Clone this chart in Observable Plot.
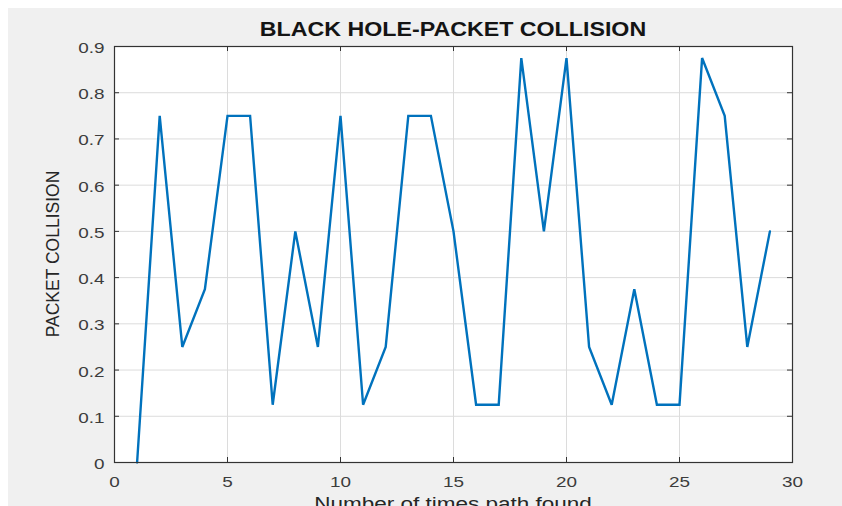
<!DOCTYPE html>
<html>
<head>
<meta charset="utf-8">
<script src="https://cdn.jsdelivr.net/npm/d3@7"></script>
<script src="https://cdn.jsdelivr.net/npm/@observablehq/plot@0.6"></script>
<style>
  html, body { margin: 0; padding: 0; width: 842px; height: 506px; overflow: hidden; background: #ffffff; }
  #bg { position: absolute; left: 8px; top: 8px; right: 0; bottom: 0; background: #f0f0f0; }
  #chart { position: absolute; left: 0; top: 0; }
  .lbl { position: absolute; font-family: "Liberation Sans", Arial, sans-serif; white-space: nowrap; line-height: 1; }
  #title { left: 453px; top: 20px; font-size: 19.5px; font-weight: bold; color: #141414; transform: translateX(-50%) scaleX(1.19); }
  #ylab { left: 53px; top: 254px; font-size: 17.5px; color: #262626; transform: translate(-50%, -50%) scaleX(1.05) rotate(-90deg); }
  #xlab { left: 453px; top: 494.5px; font-size: 18px; color: #262626; transform: translateX(-50%) scaleX(1.25); }
</style>
</head>
<body>
<div id="bg"></div>
<div id="chart"></div>
<div class="lbl" id="title">BLACK HOLE-PACKET COLLISION</div>
<div class="lbl" id="ylab">PACKET COLLISION</div>
<div class="lbl" id="xlab">Number of times path found</div>
<script>
const pathFound = [1,2,3,4,5,6,7,8,9,10,11,12,13,14,15,16,17,18,19,20,21,22,23,24,25,26,27,28,29];
const collision = [0,0.75,0.25,0.375,0.75,0.75,0.125,0.5,0.25,0.75,0.125,0.25,0.75,0.75,0.5,0.125,0.125,0.875,0.5,0.875,0.25,0.125,0.375,0.125,0.125,0.875,0.75,0.25,0.5];
const xTicks = [0,5,10,15,20,25,30];
const yTicks = [0,0.1,0.2,0.3,0.4,0.5,0.6,0.7,0.8,0.9];
const yTickLabels = ["0","0.1","0.2","0.3","0.4","0.5","0.6","0.7","0.8","0.9"];

const data = pathFound.map((x, i) => ({x, y: collision[i]}));

const W = 842, H = 506;
const mL = 114, mR = 50, mT = 46, mB = 44;
const pw = W - mL - mR, ph = H - mT - mB;
const tick = 5;
const axisColor = "#333333";

const plot = Plot.plot({
  width: W,
  height: H,
  marginLeft: mL,
  marginRight: mR,
  marginTop: mT,
  marginBottom: mB,
  style: {fontFamily: "'Liberation Sans', Arial, sans-serif", fontSize: "15.5px", color: "#3c3c3c", background: "transparent", overflow: "visible"},
  x: {domain: [0, 30]},
  y: {domain: [0, 0.9]},
  marks: [
    Plot.frame({fill: "white"}),
    Plot.gridX(xTicks, {stroke: "#dcdcdc", strokeOpacity: 1, strokeWidth: 1}),
    Plot.gridY(yTicks, {stroke: "#dcdcdc", strokeOpacity: 1, strokeWidth: 1}),
    Plot.tickX(xTicks, {x: d => d, insetTop: ph - tick, stroke: axisColor}),
    Plot.tickX(xTicks, {x: d => d, insetBottom: ph - tick, stroke: axisColor}),
    Plot.tickY(yTicks, {y: d => d, insetRight: pw - tick, stroke: axisColor}),
    Plot.tickY(yTicks, {y: d => d, insetLeft: pw - tick, stroke: axisColor}),
    Plot.line(data, {x: "x", y: "y", stroke: "#0072bd", strokeWidth: 2.4, strokeLinejoin: "miter", strokeMiterlimit: 3}),
    Plot.frame({stroke: axisColor, strokeWidth: 1.2}),
    Plot.axisX(xTicks, {tickSize: 0, tickPadding: 13, label: null, tickFormat: d => String(d)}),
    Plot.axisY(yTicks, {tickSize: 0, tickPadding: 10, label: null, dy: 1.5, tickFormat: (d, i) => yTickLabels[yTicks.indexOf(d)]})
  ]
});
document.getElementById("chart").appendChild(plot);

// horizontally stretch tick labels around their anchor points, like the reference
const s = 1.22;
d3.select(plot).selectAll('g[aria-label="x-axis tick label"] text, g[aria-label="y-axis tick label"] text').each(function() {
  const t = d3.select(this);
  const x = +t.attr("x") || 0, y = +t.attr("y") || 0;
  const tr = t.attr("transform") || "";
  t.attr("transform", `${tr} translate(${x},${y}) scale(${s},1) translate(${-x},${-y})`);
});
</script>
</body>
</html>
